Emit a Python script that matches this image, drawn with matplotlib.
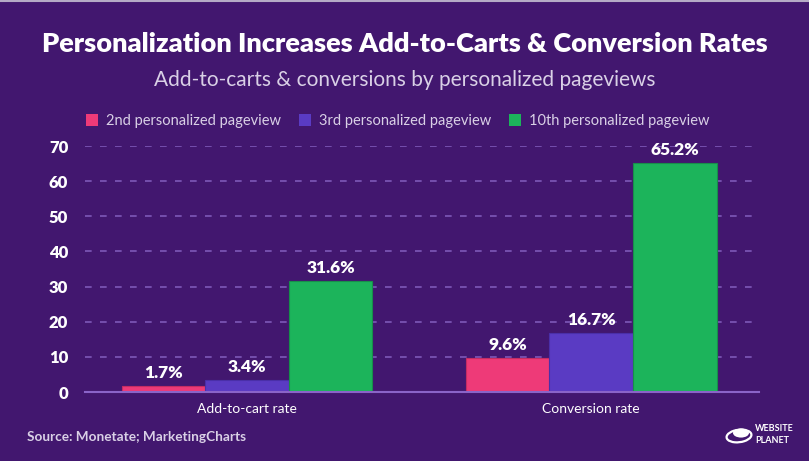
import matplotlib
matplotlib.use("Agg")
import matplotlib.pyplot as plt
from matplotlib.patches import Patch, Circle, Ellipse
from matplotlib.lines import Line2D
import numpy as np

categories = ["Add-to-cart rate", "Conversion rate"]
series_names = ["2nd personalized pageview", "3rd personalized pageview", "10th personalized pageview"]
series_values = {
    "2nd personalized pageview": [1.7, 9.6],
    "3rd personalized pageview": [3.4, 16.7],
    "10th personalized pageview": [31.6, 65.2],
}
yticks = [0, 10, 20, 30, 40, 50, 60, 70]

BG = "#42176f"
colors = ["#ee3a78", "#5a3bc3", "#1cb45b"]
edges = ["#c42d63", "#4a2fa8", "#178f4a"]
GRID = "#7e58b8"
TXT = "#ffffff"
LIGHT = "#d9d0e6"

W, H = 809, 461
fig = plt.figure(figsize=(W / 100, H / 100), dpi=100, facecolor=BG)
ax = fig.add_axes([85 / W, 1 - 392 / H, (759 - 85) / W, (392 - 146) / H])
ax.set_facecolor(BG)

lato = ["Lato", "DejaVu Sans"]

x = np.arange(len(categories))
bw = 0.243
offsets = [-bw, 0, bw]
for i, name in enumerate(series_names):
    vals = series_values[name]
    bars = ax.bar(x + offsets[i], vals, width=bw, color=colors[i], edgecolor=edges[i],
                  linewidth=0.8, label=name, zorder=3)
    for b, v in zip(bars, vals):
        ax.text(b.get_x() + b.get_width() / 2, v + 1.5, f"{v}%", ha="center", va="bottom",
                color=TXT, fontsize=12.5, fontweight="heavy", family=lato, zorder=4)

ax.set_xlim(-0.471, 1.488)
ax.set_ylim(0, 70)
ax.set_yticks(yticks)
ax.set_yticklabels([str(t) for t in yticks], family=lato, fontweight="heavy", fontsize=12, color=TXT)
ax.set_xticks(x)
ax.set_xticklabels(categories, family=lato, fontsize=10, color=TXT)
ax.tick_params(axis="y", length=0, pad=12)
ax.tick_params(axis="x", length=0, pad=8)
for s in ["top", "right", "left"]:
    ax.spines[s].set_visible(False)
ax.spines["bottom"].set_color("#8a64c8")
ax.spines["bottom"].set_linewidth(1.5)
ax.spines["bottom"].set_zorder(5)
for t in yticks[1:]:
    ax.axhline(t, color=GRID, lw=1.2, ls=(0, (4, 5)), zorder=1)

fig.text(0.5, 1 - 44 / H, "Personalization Increases Add-to-Carts & Conversion Rates",
         ha="center", va="center", color=TXT, fontsize=19.5, fontweight="heavy", family=lato)
fig.text(0.5, 1 - 80 / H, "Add-to-carts & conversions by personalized pageviews",
         ha="center", va="center", color=LIGHT, fontsize=15, family=lato)

handles = [Patch(facecolor=c, edgecolor="none") for c in colors]
leg = fig.legend(handles, series_names, loc="center", bbox_to_anchor=(398 / W, 1 - 121 / H),
                 ncol=3, frameon=False, handlelength=0.8, handleheight=0.8,
                 handletextpad=0.6, columnspacing=1.2, prop={"family": lato, "size": 10.5})
for t in leg.get_texts():
    t.set_color(LIGHT)

fig.text(27 / W, 1 - 437 / H, "Source: Monetate; MarketingCharts", ha="left", va="center",
         color=LIGHT, fontsize=9.8, fontweight="bold", family=lato)

# logo
fig.text(755 / W, 1 - 428 / H, "WEBSITE", ha="left", va="center", color=TXT, fontsize=6.5,
         fontweight="bold", family=lato)
fig.text(755 / W, 1 - 440 / H, "PLANET", ha="left", va="center", color=TXT, fontsize=6.5,
         fontweight="bold", family=lato)
fig.patches.append(Circle((741 / W, 1 - 433 / H), 8 / W, transform=fig.transFigure,
                          facecolor=TXT, edgecolor="none"))
fig.patches.append(Ellipse((739 / W, 1 - 436 / H), 26 / W, 12 / H, angle=30,
                           transform=fig.transFigure, facecolor="none", edgecolor=TXT, lw=1.6))

fig.add_artist(Line2D([0, 1], [1 - 1 / H, 1 - 1 / H], transform=fig.transFigure,
                      color="#b5aac6", lw=1.5))

fig.savefig("out.png", dpi=100, facecolor=BG)
